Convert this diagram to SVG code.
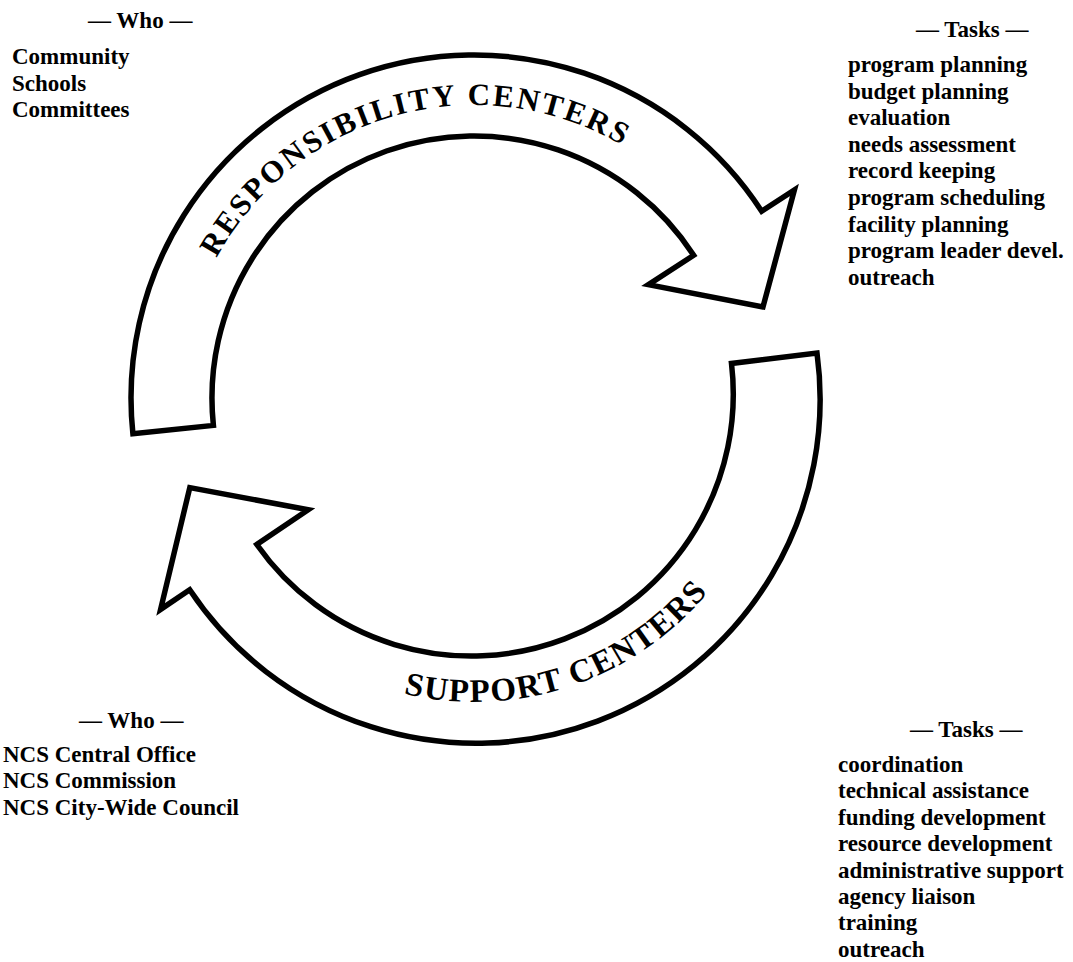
<svg xmlns="http://www.w3.org/2000/svg" xmlns:xlink="http://www.w3.org/1999/xlink" width="1073" height="962" viewBox="0 0 1073 962">
  <style>
    .arrow { fill: #ffffff; stroke: #000000; stroke-width: 5.5; stroke-linejoin: miter; }
    .txt { font-family: "Liberation Serif", "Times New Roman", serif; font-weight: bold; fill: #000000; font-size: 23px; }
    .band { font-family: "Liberation Serif", "Times New Roman", serif; font-weight: bold; fill: #000000; }
  </style>
  <defs>
    <!-- baselines for the lettering that follows each curved arrow (centre 474,398) -->
    <path id="resp-label-path" d="M 216.5 258.2 A 293 293 0 0 1 727.7 251.5"/>
    <path id="supp-label-path" d="M 403.6 693.7 A 304 304 0 0 0 773.4 450.8"/>
  </defs>
  <rect width="1073" height="962" fill="#ffffff"/>

  <!-- the two curved arrows forming the cycle -->
  <g id="connectors">
    <g id="responsibility-centers">
      <path class="arrow" d="M 132.9 433.8 A 343 343 0 0 1 761.7 211.2 L 794.4 190.0 L 763.0 306.9 L 648.4 284.7 L 693.7 255.3 A 262 262 0 0 0 213.4 425.4 Z"/>
      <text class="band" font-size="31" letter-spacing="2.5"><textPath xlink:href="#resp-label-path" href="#resp-label-path">RESPONSIBILITY CENTERS</textPath></text>
    </g>
    <g id="support-centers">
      <path class="arrow" d="M 817.0 353.0 A 344 344 0 0 1 189.7 589.8 L 160.6 609.4 L 189.8 487.6 L 308.2 509.8 L 256.8 544.5 A 262 262 0 0 0 731.5 363.5 Z"/>
      <text class="band" font-size="33" letter-spacing="1.5"><textPath xlink:href="#supp-label-path" href="#supp-label-path">SUPPORT CENTERS</textPath></text>
    </g>
  </g>

  <!-- who / tasks lists -->
  <g id="who-responsibility" class="txt">
    <text x="88" y="28">— Who —</text>
    <text x="12" y="64">Community</text>
    <text x="12" y="91">Schools</text>
    <text x="12" y="117">Committees</text>
  </g>

  <g id="tasks-responsibility" class="txt">
    <text x="916" y="37">— Tasks —</text>
    <text x="848" y="72">program planning</text>
    <text x="848" y="99">budget planning</text>
    <text x="848" y="125">evaluation</text>
    <text x="848" y="152">needs assessment</text>
    <text x="848" y="178">record keeping</text>
    <text x="848" y="205">program scheduling</text>
    <text x="848" y="232">facility planning</text>
    <text x="848" y="258">program leader devel.</text>
    <text x="848" y="285">outreach</text>
  </g>

  <g id="who-support" class="txt">
    <text x="79" y="728">— Who —</text>
    <text x="3" y="762">NCS Central Office</text>
    <text x="3" y="788">NCS Commission</text>
    <text x="3" y="815">NCS City-Wide Council</text>
  </g>

  <g id="tasks-support" class="txt">
    <text x="910" y="737">— Tasks —</text>
    <text x="838" y="772">coordination</text>
    <text x="838" y="798">technical assistance</text>
    <text x="838" y="825">funding development</text>
    <text x="838" y="851">resource development</text>
    <text x="838" y="878">administrative support</text>
    <text x="838" y="904">agency liaison</text>
    <text x="838" y="930">training</text>
    <text x="838" y="957">outreach</text>
  </g>
</svg>
